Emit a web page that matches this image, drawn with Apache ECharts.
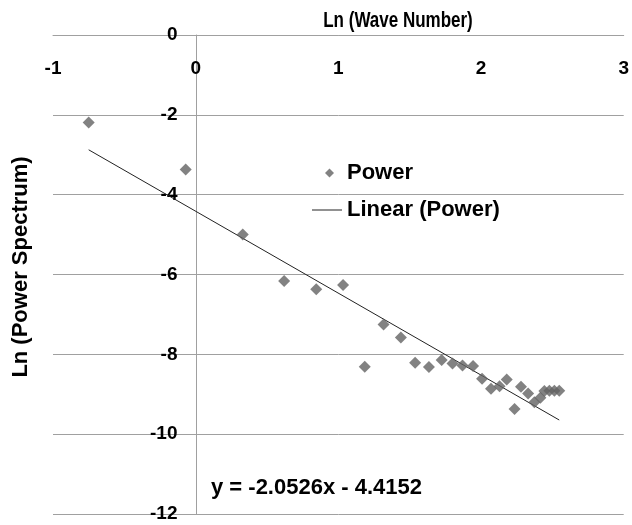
<!DOCTYPE html>
<html>
<head>
<meta charset="utf-8">
<script src="https://cdn.jsdelivr.net/npm/echarts@6/dist/echarts.min.js"></script>
<style>html,body{margin:0;padding:0;background:#fff}#c{width:632px;height:525px}</style>
</head>
<body>
<div id="c"></div>
<script>
// Data
const lnWaveNumber = [-0.75, -0.07, 0.33, 0.62, 0.845, 1.033, 1.185, 1.317, 1.438, 1.538, 1.635, 1.724, 1.80, 1.87, 1.944, 2.007, 2.07, 2.13, 2.18, 2.235, 2.28, 2.33, 2.374, 2.416, 2.444, 2.479, 2.514, 2.548];
const lnPowerSpectrum = [-2.19, -3.37, -5.0, -6.16, -6.37, -6.26, -8.31, -7.25, -7.58, -8.21, -8.32, -8.14, -8.23, -8.28, -8.29, -8.61, -8.86, -8.80, -8.63, -9.37, -8.81, -8.98, -9.20, -9.09, -8.92, -8.91, -8.91, -8.91];
const trendSlope = -2.0526;
const trendIntercept = -4.4152;
const xTicks = [-1, 0, 1, 2, 3];
const yTicks = [0, -2, -4, -6, -8, -10, -12];
const seriesNames = ['Power', 'Linear (Power)'];

const points = lnWaveNumber.map((x, i) => [x, lnPowerSpectrum[i]]);
const xMin = Math.min(...lnWaveNumber), xMax = Math.max(...lnWaveNumber);
const trend = [[xMin, trendSlope * xMin + trendIntercept], [xMax, trendSlope * xMax + trendIntercept]];

const FONT = 'Liberation Sans';
const GRID_LEFT = 53, GRID_W = 574;
const xSpan = xTicks[xTicks.length - 1] - xTicks[0];
const yAxisOffset = -GRID_W * (0 - xTicks[0]) / xSpan; // put the value axis where x = 0

const chart = echarts.init(document.getElementById('c'), null, {renderer: 'canvas'});
chart.setOption({
  animation: false,
  backgroundColor: '#fff',
  grid: {left: GRID_LEFT, width: GRID_W, top: 35, height: 479, containLabel: false},
  xAxis: {
    type: 'value', position: 'top', min: xTicks[0], max: xTicks[xTicks.length - 1], interval: 1,
    axisLine: {show: true, onZero: false, lineStyle: {color: '#a0a0a0', width: 1}},
    axisTick: {show: false},
    splitLine: {show: false},
    axisLabel: {inside: true, margin: 24, color: '#000', fontFamily: FONT, fontWeight: 'bold', fontSize: 19,
      showMinLabel: true, showMaxLabel: true}
  },
  yAxis: {
    type: 'value', position: 'left', offset: yAxisOffset,
    min: yTicks[yTicks.length - 1], max: yTicks[0], interval: 2,
    axisLine: {show: true, onZero: false, lineStyle: {color: '#a0a0a0', width: 1}},
    axisTick: {show: false},
    splitLine: {show: true, lineStyle: {color: '#a0a0a0', width: 1}},
    axisLabel: {margin: 19, color: '#000', fontFamily: FONT, fontWeight: 'bold', fontSize: 19,
      showMinLabel: true, showMaxLabel: true}
  },
  legend: [
    {data: [{name: seriesNames[0], icon: 'diamond'}], left: 325, top: 162, padding: 0, itemWidth: 9, itemHeight: 9,
      textStyle: {color: '#000', fontFamily: FONT, fontWeight: 'bold', fontSize: 22, padding: [0, 0, 0, 8]}},
    {data: [{name: seriesNames[1], icon: 'rect'}], left: 312, top: 199, padding: 0, itemWidth: 30, itemHeight: 1,
      textStyle: {color: '#000', fontFamily: FONT, fontWeight: 'bold', fontSize: 22}}
  ],
  graphic: [
    {type: 'text', x: 398, y: 21, scaleY: 1.25, style: {text: 'Ln (Wave Number)', align: 'center', verticalAlign: 'middle', fill: '#000', font: 'bold 17px "Liberation Sans"'}},
    {type: 'text', x: 21, y: 267, rotation: Math.PI / 2, style: {text: 'Ln (Power Spectrum)', align: 'center', verticalAlign: 'middle', fill: '#000', font: 'bold 22px "Liberation Sans"'}},
    {type: 'text', x: 211, y: 488, style: {text: 'y = -2.0526x - 4.4152', align: 'left', verticalAlign: 'middle', fill: '#000', font: 'bold 22px "Liberation Sans"'}}
  ],
  series: [
    {name: seriesNames[0], type: 'scatter', data: points, symbol: 'diamond', symbolSize: 12,
      itemStyle: {color: '#636363'}, z: 3},
    {name: seriesNames[1], type: 'line', data: trend, symbol: 'none', lineStyle: {color: '#222', width: 1},
      itemStyle: {color: '#222'}, z: 2}
  ]
});
</script>
</body>
</html>
